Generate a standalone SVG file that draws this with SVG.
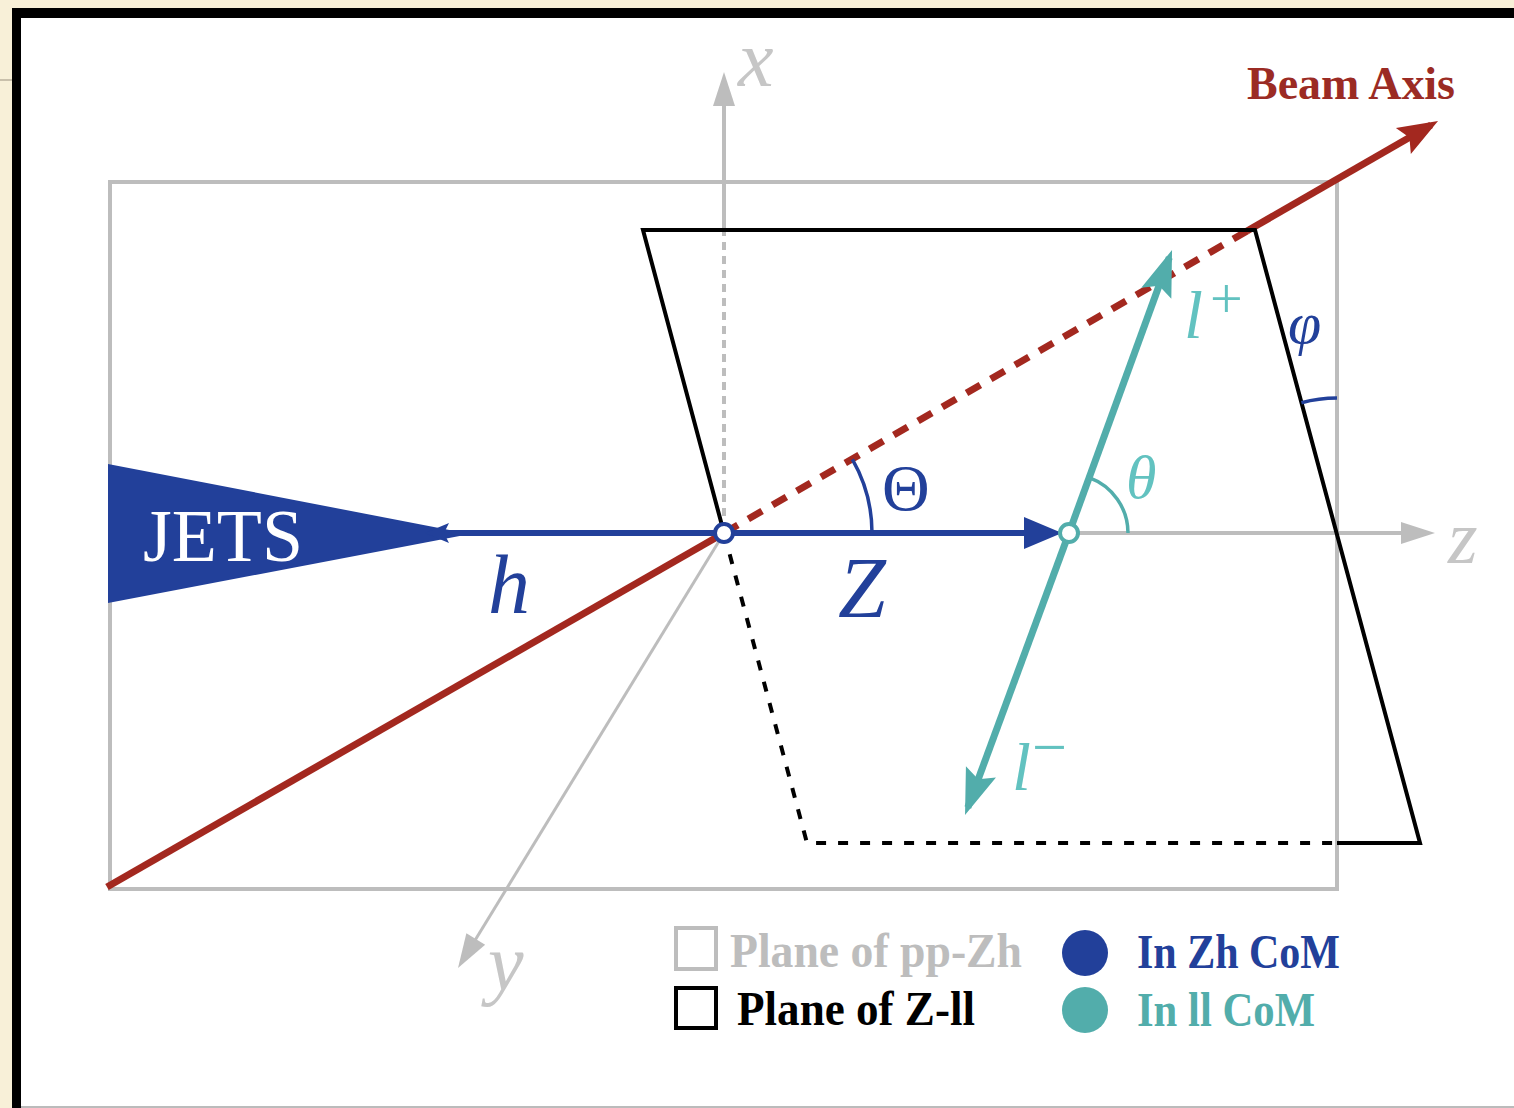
<svg xmlns="http://www.w3.org/2000/svg" width="1514" height="1108" viewBox="0 0 1514 1108">
<defs>
<style>
.gray{stroke:#bdbdbd;fill:none}
.math{font-family:"Liberation Serif",serif;font-style:italic}
.up{font-family:"Liberation Serif",serif}
.leg{font-family:"Liberation Serif",serif;font-weight:bold;font-size:48px}
.blue{fill:#22409a}
.teal{fill:#62c2c0}
.axl{fill:#c6c6c6}
</style>
<marker id="arrGray" viewBox="-40 -14 44 28" markerWidth="44" markerHeight="28" refX="-8" refY="0" orient="auto" markerUnits="userSpaceOnUse"><path d="M0,0 L-34,-11 L-34,11 Z" fill="#bdbdbd"/></marker>
<marker id="arrRed" viewBox="-42 -16 46 32" markerWidth="46" markerHeight="32" refX="-8" refY="0" orient="auto" markerUnits="userSpaceOnUse"><path d="M0,0 L-40,-15 L-33,0 L-40,15 Z" fill="#a3281f"/></marker>
<marker id="arrBlue" viewBox="-42 -17 46 34" markerWidth="46" markerHeight="34" refX="-8" refY="0" orient="auto" markerUnits="userSpaceOnUse"><path d="M0,0 L-38,-16 L-38,16 Z" fill="#22409a"/></marker>
<marker id="arrBlueS" viewBox="-30 -12 34 24" markerWidth="34" markerHeight="24" refX="-8" refY="0" orient="auto" markerUnits="userSpaceOnUse"><path d="M0,0 L-24,-10 L-19,0 L-24,10 Z" fill="#22409a"/></marker>
<marker id="arrTeal" viewBox="-50 -18 54 36" markerWidth="54" markerHeight="36" refX="-8" refY="0" orient="auto" markerUnits="userSpaceOnUse"><path d="M0,0 L-46,-16 L-38,0 L-46,16 Z" fill="#52adab"/></marker>
</defs>

<g id="frame">
<rect x="0" y="0" width="1514" height="1108" fill="#f8f0d8"/>
<line x1="0" y1="80" x2="12" y2="80" stroke="#c9c0ab" stroke-width="2"/>
<rect x="12" y="8" width="1502" height="1100" fill="#000"/>
<rect x="21" y="18" width="1493" height="1088" fill="#fff"/>
<line x1="21" y1="1107" x2="1514" y2="1107" stroke="#bbb" stroke-width="2"/>
</g>

<g id="plane-ppZh">
<rect x="110" y="182" width="1227" height="707" class="gray" stroke-width="4"/>
</g>

<g id="connectors">
<line x1="107" y1="887" x2="724" y2="533" stroke="#a3281f" stroke-width="7"/>
<line x1="724" y1="533" x2="1249" y2="230" stroke="#a3281f" stroke-width="7" stroke-dasharray="16 12"/>
<line x1="1247" y1="231" x2="1431.1" y2="125" stroke="#a3281f" stroke-width="7" marker-end="url(#arrRed)"/>
<line x1="724" y1="530" x2="724" y2="232" class="gray" stroke-width="4" stroke-dasharray="8 6"/>
<line x1="724" y1="232" x2="724" y2="80" class="gray" stroke-width="4" marker-end="url(#arrGray)"/>
<line x1="724" y1="533" x2="1427" y2="533" class="gray" stroke-width="4" marker-end="url(#arrGray)"/>
<line x1="724" y1="533" x2="462.2" y2="961.2" class="gray" stroke-width="3" marker-end="url(#arrGray)"/>
</g>

<g id="plane-Zll" fill="none" stroke="#000" stroke-width="4">
<polyline points="1337,843 1420,843 1255,230 643,230 724,533" stroke-linejoin="miter"/>
<polyline points="724,533 807,843 1337,843" stroke-dasharray="10 12"/>
</g>

<g id="jets">
<polygon points="108,464 108,603 470,534" fill="#22409a"/>
<text x="143" y="561" class="up" font-size="74" fill="#fff" textLength="160" lengthAdjust="spacingAndGlyphs">JETS</text>
</g>

<g id="h-vector">
<line x1="724" y1="533" x2="433" y2="533" stroke="#22409a" stroke-width="6" marker-end="url(#arrBlueS)"/>
<text x="488" y="613" class="math blue" font-size="84">h</text>
</g>

<g id="Z-vector">
<line x1="724" y1="533" x2="1054" y2="533" stroke="#22409a" stroke-width="6" marker-end="url(#arrBlue)"/>
<text x="838" y="617" class="math blue" font-size="86">Z</text>
</g>

<g id="leptons">
<line x1="1069" y1="533" x2="1169.3" y2="257.5" stroke="#52adab" stroke-width="7" marker-end="url(#arrTeal)"/>
<line x1="1069" y1="533" x2="967.8" y2="807.5" stroke="#52adab" stroke-width="7" marker-end="url(#arrTeal)"/>
<text x="1184" y="338" class="math teal" font-size="68">l</text>
<text x="1210" y="318" class="up teal" font-size="58">+</text>
<text x="1012" y="790" class="math teal" font-size="68">l</text>
<text x="1032" y="768" class="up teal" font-size="62">−</text>
</g>

<g id="angles" fill="none" stroke-width="3.5">
<path d="M872,533 A148,148 0 0 0 852.4,459.4" stroke="#22409a"/>
<path d="M1128,533 A59,59 0 0 0 1089.2,477.6" stroke="#52adab"/>
<path d="M1337,398 A137,137 0 0 0 1301.4,402.7" stroke="#22409a"/>
</g>
<g id="angle-labels">
<text x="882" y="510" class="up blue" font-size="66">Θ</text>
<text x="1126" y="498" class="math teal" font-size="62">θ</text>
<text x="1288" y="343" class="math blue" font-size="60">φ</text>
</g>

<g id="origin">
<circle cx="724" cy="533" r="9" fill="#fff" stroke="#22409a" stroke-width="4"/>
</g>
<g id="Z-decay">
<circle cx="1069" cy="533" r="9" fill="#fff" stroke="#52adab" stroke-width="4"/>
</g>

<g id="axis-labels">
<text x="738" y="86" class="math axl" font-size="80">x</text>
<text x="1448" y="563" class="math axl" font-size="76">z</text>
<text x="488" y="990" class="math axl" font-size="80">y</text>
</g>

<g id="beam-label">
<text x="1247" y="99" font-family="Liberation Serif, serif" font-weight="bold" font-size="46" fill="#9b2b24" textLength="208" lengthAdjust="spacingAndGlyphs">Beam Axis</text>
</g>

<g id="legend">
<rect x="676" y="928" width="40" height="41" fill="none" stroke="#bdbdbd" stroke-width="4"/>
<text x="730" y="967" class="leg" fill="#bdbdbd" textLength="292" lengthAdjust="spacingAndGlyphs">Plane of pp-Zh</text>
<rect x="676" y="988" width="40" height="40" fill="none" stroke="#000" stroke-width="4"/>
<text x="737" y="1025" class="leg" fill="#000" textLength="238" lengthAdjust="spacingAndGlyphs">Plane of Z-ll</text>
<circle cx="1085" cy="953" r="23" fill="#22409a"/>
<text x="1137" y="968" class="leg" fill="#22409a" textLength="203" lengthAdjust="spacingAndGlyphs">In Zh CoM</text>
<circle cx="1085" cy="1010" r="23" fill="#52adab"/>
<text x="1137" y="1026" class="leg" fill="#52adab" textLength="178" lengthAdjust="spacingAndGlyphs">In ll CoM</text>
</g>
</svg>
